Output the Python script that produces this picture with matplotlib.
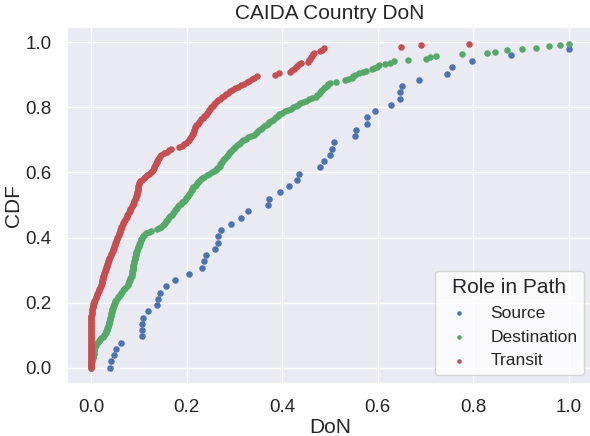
import numpy as np
import matplotlib
matplotlib.use('Agg')
import matplotlib.pyplot as plt
import seaborn as sns

# DoN values, one per node (CDF is rank / n)
source_don = [0.039, 0.043, 0.048, 0.052, 0.062, 0.106, 0.106, 0.107, 0.109, 0.12,
              0.139, 0.141, 0.145, 0.156, 0.175, 0.205, 0.232, 0.237, 0.24, 0.26,
              0.265, 0.266, 0.273, 0.294, 0.314, 0.329, 0.371, 0.372, 0.395, 0.414,
              0.431, 0.435, 0.48, 0.488, 0.5, 0.504, 0.508, 0.552, 0.554, 0.577,
              0.578, 0.594, 0.628, 0.646, 0.647, 0.651, 0.686, 0.745, 0.756, 0.798,
              0.879, 1.0]

destination_don = [0.0, 0.0, 0.0, 0.0, 0.0, 0.002, 0.003, 0.004,
                   0.0045, 0.005, 0.0055, 0.006, 0.0065, 0.007,
                   0.0075, 0.008, 0.009, 0.0105, 0.012, 0.014, 0.016,
                   0.019, 0.022, 0.025, 0.027, 0.029,
                   0.031, 0.032, 0.033, 0.034, 0.035, 0.036,
                   0.0375, 0.038, 0.0385, 0.039, 0.0395, 0.04,
                   0.041, 0.042, 0.043, 0.044, 0.0445, 0.045, 0.046, 0.047,
                   0.048, 0.049, 0.05, 0.051, 0.052, 0.054,
                   0.056, 0.058, 0.061, 0.063, 0.066,
                   0.068, 0.07, 0.072, 0.075, 0.077,
                   0.078, 0.079, 0.08, 0.081, 0.082, 0.084,
                   0.085, 0.0855, 0.086, 0.0865, 0.087, 0.0875, 0.088, 0.0885, 0.089, 0.09,
                   0.0905, 0.091, 0.092, 0.0925, 0.093, 0.094, 0.0945, 0.095,
                   0.096, 0.097, 0.098, 0.099, 0.1, 0.101, 0.102, 0.103, 0.104, 0.105, 0.106, 0.108,
                   0.111, 0.116, 0.122, 0.126, 0.139, 0.143,
                   0.147, 0.15, 0.153, 0.155, 0.157, 0.16,
                   0.162, 0.164, 0.166, 0.169, 0.171,
                   0.1735, 0.176, 0.178, 0.18, 0.183, 0.185,
                   0.188, 0.191, 0.194, 0.197, 0.199,
                   0.201, 0.203, 0.205, 0.207, 0.209, 0.211, 0.212, 0.214,
                   0.217, 0.22, 0.222, 0.224,
                   0.227, 0.23, 0.233, 0.236,
                   0.242, 0.248, 0.253, 0.258,
                   0.261, 0.264, 0.267,
                   0.269, 0.271, 0.273, 0.275,
                   0.277, 0.279, 0.281, 0.284, 0.286, 0.288,
                   0.291, 0.294, 0.297, 0.299, 0.302,
                   0.305, 0.309, 0.312, 0.316, 0.319,
                   0.324, 0.329, 0.335, 0.341,
                   0.345, 0.348, 0.351, 0.355, 0.358,
                   0.362, 0.366, 0.37, 0.373, 0.377, 0.38,
                   0.384, 0.387, 0.391, 0.394,
                   0.4, 0.406, 0.413,
                   0.418, 0.423, 0.428, 0.433,
                   0.438, 0.444, 0.45,
                   0.457, 0.463, 0.47,
                   0.473, 0.476, 0.479, 0.481,
                   0.483, 0.487, 0.49, 0.493, 0.496, 0.5,
                   0.512, 0.531, 0.538, 0.545, 0.549, 0.553, 0.561, 0.57,
                   0.575, 0.587, 0.592, 0.598, 0.603, 0.615, 0.626, 0.634,
                   0.663, 0.701, 0.71, 0.722, 0.776, 0.828, 0.845, 0.871,
                   0.901, 0.93, 0.959, 0.981, 1.0]

transit_don = [0.0] * 22 + [
    0.0002, 0.0003, 0.0004, 0.0005, 0.0005, 0.0006, 0.0007, 0.0008,
    0.0008, 0.0009, 0.001, 0.0011, 0.0012, 0.0012, 0.0013, 0.0014,
    0.002, 0.0025, 0.003, 0.0036, 0.0042, 0.0048,
    0.0062, 0.0075, 0.0088, 0.01, 0.011, 0.0118,
    0.013, 0.0145, 0.016, 0.0175, 0.019, 0.0205, 0.0215, 0.0228,
    0.0235, 0.024, 0.025, 0.0257, 0.0263,
    0.027, 0.028, 0.029, 0.03, 0.031, 0.032, 0.033, 0.034, 0.035, 0.036, 0.037,
    0.0385, 0.04, 0.0415, 0.043, 0.0445, 0.046, 0.0472,
    0.048, 0.049, 0.05, 0.051, 0.052, 0.053, 0.0543,
    0.0555, 0.057, 0.058, 0.059, 0.06, 0.061, 0.062, 0.0635, 0.065,
    0.0665, 0.068, 0.07, 0.0715, 0.073, 0.0745, 0.0765,
    0.078, 0.0795, 0.081, 0.0825, 0.084, 0.086,
    0.087, 0.088, 0.0895, 0.091, 0.092, 0.0935, 0.0945, 0.0955, 0.0965,
    0.0973, 0.0978, 0.0983, 0.0988, 0.0992, 0.0996, 0.1,
    0.103, 0.106, 0.11,
    0.114, 0.118, 0.121, 0.125,
    0.127, 0.129, 0.131, 0.132, 0.134, 0.136,
    0.1375, 0.139, 0.141, 0.1425, 0.144, 0.146,
    0.152, 0.159, 0.164, 0.168,
    0.185, 0.19, 0.195, 0.199,
    0.202, 0.205, 0.207, 0.21,
    0.211, 0.2125, 0.214, 0.215, 0.216, 0.217, 0.218, 0.22,
    0.223, 0.226, 0.229, 0.231,
    0.234, 0.237, 0.24, 0.242, 0.245,
    0.2475, 0.25, 0.252, 0.2545, 0.257, 0.259,
    0.263, 0.266, 0.27, 0.274,
    0.278, 0.282, 0.287, 0.291, 0.295,
    0.301, 0.308, 0.314,
    0.32, 0.326, 0.33,
    0.336, 0.342, 0.348,
    0.385, 0.393,
    0.416, 0.42, 0.424, 0.428, 0.432, 0.436, 0.44,
    0.455, 0.457, 0.459, 0.461, 0.462, 0.464, 0.466,
    0.479, 0.484, 0.488,
    0.649, 0.691, 0.791]

roles = ['Source', 'Destination', 'Transit']
colors = ['#4C72B0', '#55A868', '#C44E52']

sns.set_theme(style='darkgrid', font_scale=1.25)
plt.rcParams['font.family'] = ['Liberation Sans', 'DejaVu Sans']


def ecdf(vals):
    "Sorted values and their empirical CDF (rank / n)"
    x = np.sort(np.asarray(vals))
    y = np.arange(len(x)) / float(len(x))
    return x, y


fig = plt.figure(figsize=(5.9, 4.36), dpi=100)
ax = fig.add_axes([67 / 590, 1 - 384 / 436, (593 - 67) / 590, (384 - 27) / 436])

for role, vals, c in zip(roles, [source_don, destination_don, transit_don], colors):
    x, y = ecdf(vals)
    ax.scatter(x, y, s=22, color=c, linewidths=0, label=role)

ax.set_xlim(-0.05, 1.05)
ax.set_ylim(-0.05, 1.047)
ax.set_xticks(np.arange(0, 1.01, 0.2))
ax.set_yticks(np.arange(0, 1.01, 0.2))
ax.tick_params(labelsize=13.5, pad=5)
ax.set_title('CAIDA Country DoN', fontsize=15)
ax.set_xlabel('DoN', fontsize=15, labelpad=1)
ax.set_ylabel('CDF', fontsize=15, labelpad=2)

leg = ax.legend(title='Role in Path', loc='lower right', frameon=True,
                facecolor='white', edgecolor='0.8', fontsize=12.5,
                title_fontsize=15, markerscale=0.7)

fig.savefig('out.png', dpi=100)
